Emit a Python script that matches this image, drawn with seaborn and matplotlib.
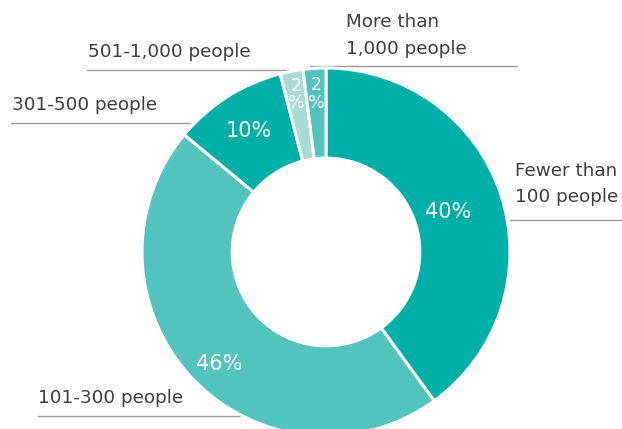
import numpy as np
import matplotlib
matplotlib.use('Agg')
import matplotlib.pyplot as plt
import seaborn as sns

sns.set_theme(style='white')
plt.rcParams['font.family'] = ['DejaVu Sans']

# data
categories = ['Fewer than 100 people', '101-300 people', '301-500 people',
              '501-1,000 people', 'More than 1,000 people']
shares = [40, 46, 10, 2, 2]
pct_labels = ['40%', '46%', '10%', '2\n%', '2\n%']

colors = ['#00AFA8', '#52C3BD', '#00AFA8', '#A8DBD8', '#52C3BD']

W, H = 622, 429
fig = plt.figure(figsize=(W / 100, H / 100), dpi=100)
ax = fig.add_axes([0, 0, 1, 1])

cx, cy, R = 326, H - 252, 184
wedges, _ = ax.pie(shares, colors=colors, startangle=90, counterclock=False,
                   radius=R, center=(cx, cy),
                   wedgeprops=dict(width=R * 0.49, edgecolor='white', linewidth=2.2))
ax.set_xlim(0, W)
ax.set_ylim(0, H)
ax.set_aspect('equal')
ax.axis('off')

# percent labels inside the ring
rfrac = [0.70, 0.84, 0.78, 0.86, 0.85]
shift = [0, 3, 0, 0, 0]  # small angular nudges (deg)
sizes = [15, 15, 15, 12.5, 12.5]
for w, lab, rf, fs, sh in zip(wedges, pct_labels, rfrac, sizes, shift):
    ang = np.deg2rad((w.theta1 + w.theta2) / 2 + sh)
    ax.text(cx + np.cos(ang) * R * rf, cy + np.sin(ang) * R * rf + (2 if '\n' in lab else 0),
            lab, color='white', fontsize=fs, ha='center', va='center',
            linespacing=0.95)

# outside labels with underlines (pixel positions from top)
txt_color = '#3d3d3d'
line_color = '#9a9a9a'
outside = [
    (['Fewer than', '100 people'], 515, [176, 202], 220, 510, 622),
    (['101-300 people'], 38, [403], 416, 38, 240),
    (['301-500 people'], 12, [110], 123, 11, 190),
    (['501-1,000 people'], 88, [57], 70, 87, 290),
    (['More than', '1,000 people'], 346, [27, 54], 66, 310, 517),
]
for lines, tx, bases, ly, x0, x1 in outside:
    for s, b in zip(lines, bases):
        ax.text(tx, H - b, s, color=txt_color, fontsize=13.2,
                ha='left', va='baseline')
    ax.plot([x0, x1], [H - ly, H - ly], color=line_color, lw=1.0, zorder=0)

fig.savefig('out.png', dpi=100)
